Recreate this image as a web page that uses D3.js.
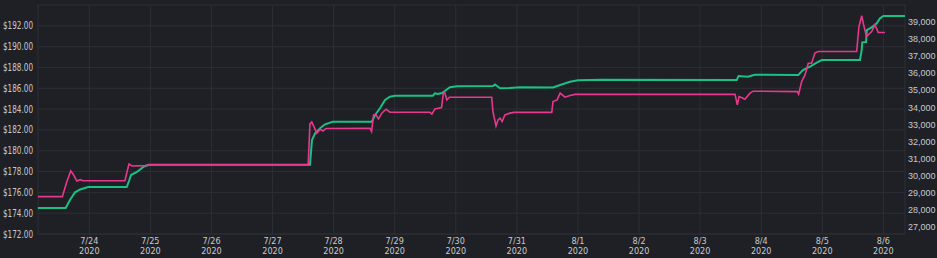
<!DOCTYPE html>
<html>
<head>
<meta charset="utf-8">
<script src="https://cdn.jsdelivr.net/npm/d3@7"></script>
<style>
  html, body { margin: 0; padding: 0; background: #1e2025; }
  svg { display: block; }
  text { font-family: "DejaVu Sans Condensed", "Liberation Sans", sans-serif; fill: #c9cacc; }
</style>
</head>
<body>
<div id="chart"></div>
<script>
// hours since 2020-07-23 00:00, price (left axis, $)
const pinkHours = [3.8, 13.4, 15.0, 16.7, 17.6, 19.1, 20.4, 21.5, 38.0, 38.8, 39.6, 40.8, 45.9, 47.5,
    110.0, 110.7, 111.4, 112.3, 113.4, 114.7, 115.8, 117.0, 134.3, 134.9, 135.7, 136.6, 137.6, 139.0,
    140.6, 142.1, 157.8, 158.6, 159.8, 162.4, 163.1, 163.6, 164.5, 165.5, 182.1, 182.6, 183.8, 184.6,
    185.4, 186.2, 187.3, 189.3, 190.9, 205.7, 206.2, 207.8, 209.0, 210.9, 212.9, 214.8, 277.7, 278.6,
    279.3, 280.4, 281.6, 283.6, 284.8, 302.2, 302.7, 303.9, 305.2, 306.5, 307.8, 309.1, 310.4, 325.5,
    326.4, 327.5, 328.4, 329.4, 331.4, 332.7, 334.0, 336.6];
const pinkValues = [175.59, 175.59, 176.9, 178.06, 177.77, 177.10, 177.22, 177.12, 177.13, 177.96, 178.73, 178.54, 178.57, 178.66,
    178.66, 182.58, 182.77, 182.29, 181.68, 182.05, 181.90, 182.14, 182.16, 181.84, 183.44, 183.49, 183.06, 183.63,
    183.99, 183.70, 183.70, 183.51, 184.02, 184.14, 185.53, 185.61, 184.88, 185.14, 185.14, 183.76, 182.38, 182.96,
    183.13, 182.80, 183.44, 183.61, 183.68, 183.68, 184.72, 184.88, 185.53, 185.14, 185.30, 185.41, 185.43, 184.40,
    185.20, 185.08, 184.95, 185.53, 185.72, 185.68, 185.43, 186.64, 187.29, 188.41, 188.41, 189.38, 189.53, 189.53,
    191.93, 192.96, 191.93, 190.97, 191.45, 192.10, 191.36, 191.36];

// hours since 2020-07-23 00:00, value (right axis)
const greenHours = [3.8, 14.7, 16.4, 18.4, 20.4, 23.5, 38.7, 39.6, 40.4, 42.7, 45.5, 47.5, 110.7, 111.5,
    112.7, 114.7, 116.6, 119.7, 135.0, 136.3, 138.2, 140.2, 142.1, 144.1, 159.0, 159.8, 161.0, 162.6,
    163.8, 165.7, 168.5, 182.7, 183.4, 184.2, 185.4, 189.3, 193.2, 206.2, 209.0, 212.9, 216.0, 224.7,
    278.4, 279.1, 282.8, 284.4, 285.6, 302.6, 304.4, 307.2, 309.8, 311.8, 326.8, 327.5, 327.7, 329.2,
    329.5, 331.4, 333.4, 334.7, 336.0, 344.5];
const greenValues = [28127, 28127, 28594, 29043, 29207, 29353, 29353, 29703, 30053, 30228, 30549, 30654, 30654, 32097,
    32488, 32780, 33013, 33165, 33165, 33556, 33947, 34432, 34625, 34683, 34683, 34823, 34782, 34840,
    34975, 35173, 35237, 35249, 35337, 35249, 35115, 35132, 35173, 35161, 35307, 35500, 35582, 35620,
    35600, 35833, 35792, 35862, 35909, 35891, 36183, 36376, 36609, 36767, 36767, 37351, 37800, 37818,
    38518, 38676, 38910, 39201, 39336, 39336];

const leftTicks = [172, 174, 176, 178, 180, 182, 184, 186, 188, 190, 192];
const rightTicks = [27000, 28000, 29000, 30000, 31000, 32000, 33000, 34000, 35000, 36000, 37000, 38000, 39000];

const width = 937, height = 258;
const margin = { top: 5, right: 32, bottom: 24, left: 38 };

const base = new Date(2020, 6, 23, 0, 0);
const toDate = h => new Date(base.getTime() + h * 3600 * 1000);

const svg = d3.select("#chart")
    .append("svg")
    .attr("width", width)
    .attr("height", height);

const x = d3.scaleTime()
    .domain([toDate(3.84), toDate(344.5)])
    .range([margin.left, width - margin.right]);

const yLeft = d3.scaleLinear()
    .domain([172, 194])
    .range([height - margin.bottom, margin.top]);

const yRight = d3.scaleLinear()
    .domain([26609, 39978])
    .range([height - margin.bottom, margin.top]);

const gridColor = "#2c2f35";
const days = x.ticks(d3.timeDay.every(1));

// grid
svg.append("g")
    .selectAll("line")
    .data(leftTicks)
    .enter().append("line")
    .attr("x1", margin.left)
    .attr("x2", width - margin.right)
    .attr("y1", d => yLeft(d))
    .attr("y2", d => yLeft(d))
    .attr("stroke", gridColor);

svg.append("g")
    .selectAll("line")
    .data(days)
    .enter().append("line")
    .attr("x1", d => x(d))
    .attr("x2", d => x(d))
    .attr("y1", margin.top)
    .attr("y2", height - margin.bottom)
    .attr("stroke", gridColor);

// plot frame
svg.append("rect")
    .attr("x", margin.left)
    .attr("y", margin.top)
    .attr("width", width - margin.left - margin.right)
    .attr("height", height - margin.top - margin.bottom)
    .attr("fill", "none")
    .attr("stroke", gridColor);

// lines
const pinkData = pinkHours.map((h, i) => ({ t: toDate(h), v: pinkValues[i] }));
const greenData = greenHours.map((h, i) => ({ t: toDate(h), v: greenValues[i] }));

svg.append("path")
    .datum(greenData)
    .attr("fill", "none")
    .attr("stroke", "#19c185")
    .attr("stroke-width", 2)
    .attr("d", d3.line().x(d => x(d.t)).y(d => yRight(d.v)));

svg.append("path")
    .datum(pinkData)
    .attr("fill", "none")
    .attr("stroke", "#e9378e")
    .attr("stroke-width", 1.6)
    .attr("d", d3.line().x(d => x(d.t)).y(d => yLeft(d.v)));

// left axis labels (squeezed to the narrow width of the original font)
svg.append("g")
    .selectAll("text")
    .data(leftTicks)
    .enter().append("text")
    .attr("x", margin.left - 5)
    .attr("y", d => yLeft(d))
    .attr("dy", "0.35em")
    .attr("text-anchor", "end")
    .attr("textLength", 30)
    .attr("lengthAdjust", "spacingAndGlyphs")
    .style("font-size", "10px")
    .text(d => "$" + d.toFixed(2));

// right axis labels
svg.append("g")
    .selectAll("text")
    .data(rightTicks)
    .enter().append("text")
    .attr("x", width - margin.right + 3)
    .attr("y", d => yRight(d))
    .attr("dy", "0.35em")
    .attr("text-anchor", "start")
    .style("font-family", "'Liberation Sans', sans-serif")
    .style("font-size", "9px")
    .text(d => d3.format(",")(d));

// x labels, two lines each
const fmtDay = d3.timeFormat("%-m/%-d"), fmtYear = d3.timeFormat("%Y");
svg.append("g")
    .selectAll("text")
    .data(days)
    .enter().append("text")
    .attr("x", d => x(d))
    .attr("y", height - margin.bottom + 10)
    .attr("text-anchor", "middle")
    .style("font-size", "9px")
    .text(d => fmtDay(d));

svg.append("g")
    .selectAll("text")
    .data(days)
    .enter().append("text")
    .attr("x", d => x(d))
    .attr("y", height - margin.bottom + 20)
    .attr("text-anchor", "middle")
    .style("font-size", "9px")
    .text(d => fmtYear(d));
</script>
</body>
</html>
